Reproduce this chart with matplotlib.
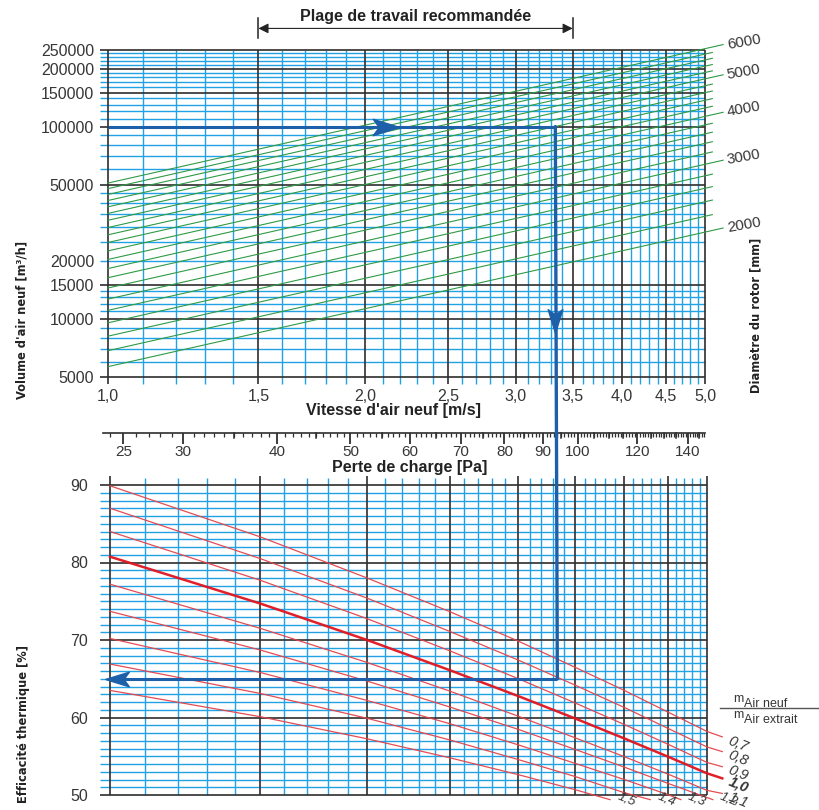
import numpy as np
import matplotlib

matplotlib.use("Agg")
import matplotlib.pyplot as plt
import matplotlib.transforms as mtransforms
from matplotlib import font_manager
from matplotlib.patches import ConnectionPatch
from matplotlib.path import Path

# --- values -------------------------------------------------------------------
VEL_MAJOR = [1.0, 1.5, 2.0, 2.5, 3.0, 3.5, 4.0, 4.5, 5.0]
VEL_LABELS = ["1,0", "1,5", "2,0", "2,5", "3,0", "3,5", "4,0", "4,5", "5,0"]
VEL_MINOR = [v for v in np.round(np.arange(1.1, 5.0, 0.1), 1) if v not in VEL_MAJOR]

VOL_MAJOR = [5000, 10000, 15000, 50000, 100000, 150000, 200000, 250000]
VOL_MINOR = [6000, 7000, 8000, 9000, 11000, 12000, 13000, 14000,
             20000, 25000, 30000, 35000, 40000, 45000,
             60000, 70000, 80000, 90000, 110000, 120000, 130000, 140000,
             160000, 170000, 180000, 190000, 210000, 220000, 230000, 240000]
VOL_TICKS = [5000, 10000, 15000, 20000, 50000, 100000, 150000, 200000, 250000]

# rotor diameter [mm] -> air volume at 1,0 m/s and at 5,0 m/s
DIAMETERS = [2000, 2200, 2400, 2600, 2800, 3000, 3200, 3400, 3600, 3800, 4000,
             4200, 4400, 4600, 4800, 5000, 5200, 5400, 5600, 5800, 6000]
DIAM_LABELED = [2000, 3000, 4000, 5000, 6000]
VOL_AT_V1 = [5660, 6850, 8150, 9560, 11100, 12700, 14500, 16400, 18300, 20400, 22600,
             25000, 27400, 29900, 32600, 35400, 38300, 41300, 44400, 47600, 50900]
VOL_AT_V5 = [28300, 34200, 40700, 47800, 55500, 63700, 72400, 81800, 91700, 102000, 113000,
             125000, 137000, 150000, 163000, 177000, 191000, 206000, 222000, 238000, 254000]

# pressure drop scale (Pa) aligned under the velocity axis
PA_RANGE = (23.5, 147.5)
PA_TICKS = [25, 30, 40, 50, 60, 70, 80, 90, 100, 120, 140]
PA_MID = [35, 45, 55, 65, 75, 85, 95, 105, 110, 115, 125, 130, 135, 145]
PA_MINOR = list(range(24, 148))

EFF_MAJOR = [50, 60, 70, 80, 90]
EFF_MINOR = [e for e in range(51, 90) if e % 10]

# thermal efficiency [%] per mass-flow ratio, read at VEL_MAJOR, plus end of each curve
RATIOS = ["0,7", "0,8", "0,9", "1,0", "1,1", "1,2", "1,3", "1,4", "1,5"]
EFF_CURVES = [
    [89.9, 83.3, 78.0, 73.65, 69.9, 66.5, 63.5, 60.7, 58.2],
    [87.0, 80.5, 75.4, 71.1, 67.45, 64.2, 61.3, 58.6, 56.2],
    [84.0, 77.7, 72.75, 68.6, 65.05, 61.9, 59.1, 56.55, 54.2],
    [80.75, 74.7, 70.0, 66.1, 62.8, 59.9, 57.3, 54.95, 52.8],
    [77.2, 71.5, 67.1, 63.4, 60.2, 57.4, 54.95, 52.7, 50.6],
    [73.7, 68.7, 64.7, 61.35, 58.5, 55.9, 53.6, 51.5],
    [70.2, 65.8, 62.2, 59.2, 56.5, 54.1, 52.0, 50.05],
    [66.9, 63.1, 59.9, 57.1, 54.6, 52.4, 50.3],
    [63.5, 60.1, 57.25, 54.8, 52.65, 50.7],
]
END_VEL = [5.21, 5.21, 5.21, 5.21, 5.21, 5.08, 4.66, 4.29, 3.85]
END_EFF = [57.5, 55.6, 53.65, 52.15, 50.2, 49.4, 49.4, 49.4, 49.4]

# worked example drawn in blue
EX_VEL = 3.34
EX_VOL = 100000
EX_EFF = 65

# --- styling -------------------------------------------------------------------
GRID_BLUE = "#22a2e4"
GRID_DARK = "#2e2e2e"
GREEN = "#2f9a45"
RED = "#e4424a"
PATH_BLUE = "#1d5fa9"
TEXT = "#363636"

plt.rcParams["font.family"] = ["Liberation Sans", "DejaVu Sans"]
installed = {f.name for f in font_manager.fontManager.ttflist}
if "Liberation Sans Narrow" in installed:
    NARROW = dict(family="Liberation Sans Narrow", fontsize=10.5)
else:
    NARROW = dict(family="DejaVu Sans", fontstretch="condensed", fontsize=9.2)

W, H = 819, 810
fig = plt.figure(figsize=(W / 100, H / 100), dpi=100)


def box(x0, y0, x1, y1):
    return [x0 / W, 1 - y1 / H, (x1 - x0) / W, (y1 - y0) / H]


ax1 = fig.add_axes(box(108, 50, 705, 377))
ax2 = fig.add_axes(box(110, 485, 707, 795))
axp = fig.add_axes(box(103, 433, 705, 433.01))


def draw_grid(ax, xs, ys, color, lw, z, xext, yext):
    for x in xs:
        ax.plot([x, x], yext, transform=ax.get_xaxis_transform(), color=color,
                lw=lw, zorder=z, clip_on=False, solid_capstyle="butt")
    for y in ys:
        ax.plot(xext, [y, y], transform=ax.get_yaxis_transform(), color=color,
                lw=lw, zorder=z, clip_on=False, solid_capstyle="butt")


# --- top panel: volume vs velocity ------------------------------------------------
ax1.set_xscale("log")
ax1.set_yscale("log")
ax1.set_xlim(1.0, 5.0)
ax1.set_ylim(5000, 250000)
ax1.set_frame_on(False)
draw_grid(ax1, VEL_MINOR, VOL_MINOR, GRID_BLUE, 1.0, 1, (-0.014, 1), (-0.02, 1))
draw_grid(ax1, VEL_MAJOR, VOL_MAJOR, GRID_DARK, 1.2, 2, (-0.014, 1), (-0.02, 1))
ax1.xaxis.set_minor_locator(matplotlib.ticker.NullLocator())
ax1.yaxis.set_minor_locator(matplotlib.ticker.NullLocator())
ax1.set_xticks(VEL_MAJOR, VEL_LABELS)
ax1.set_yticks(VOL_TICKS, [str(v) for v in VOL_TICKS])
ax1.tick_params(axis="x", length=0, pad=8.5, labelsize=11.5, labelcolor=TEXT)
ax1.tick_params(axis="y", length=0, pad=10, labelsize=11.5, labelcolor=TEXT)

for d, v1, v5 in zip(DIAMETERS, VOL_AT_V1, VOL_AT_V5):
    vend = 5.25 if d in DIAM_LABELED else 5.1
    ax1.plot([1.0, 5.0, vend], [v1, v5, v5 * vend / 5.0], color=GREEN, lw=0.8,
             zorder=3, clip_on=False)
    if d in DIAM_LABELED:
        ax1.annotate(str(d), xy=(vend, v5 * vend / 5.0), xytext=(2, 2),
                     textcoords="offset points", ha="left", va="center",
                     rotation=10, fontsize=11, color=TEXT, annotation_clip=False)

# recommended working range
xt = ax1.get_xaxis_transform()
ax1.annotate("", xy=(1.5, 1.066), xytext=(3.5, 1.066), xycoords=xt, textcoords=xt,
             arrowprops=dict(arrowstyle="<|-|>", color="#222222", lw=0.8,
                             mutation_scale=15, shrinkA=0, shrinkB=0),
             annotation_clip=False)
for v in (1.5, 3.5):
    ax1.plot([v, v], [1.038, 1.099], transform=xt, color="#222222", lw=1.1, clip_on=False)
ax1.text(np.sqrt(1.5 * 3.5), 1.08, "Plage de travail recommandée", transform=xt,
         ha="center", va="bottom", fontsize=11.5, weight="bold", color="#222222")

# --- pressure drop scale -------------------------------------------------------
axp.set_xscale("log")
axp.set_xlim(*PA_RANGE)
axp.patch.set_visible(False)
for side in ("left", "right", "top"):
    axp.spines[side].set_visible(False)
axp.spines["bottom"].set_color(GRID_DARK)
axp.spines["bottom"].set_linewidth(1.2)
axp.set_yticks([])
axp.xaxis.set_major_locator(matplotlib.ticker.FixedLocator(PA_TICKS))
axp.xaxis.set_major_formatter(matplotlib.ticker.FixedFormatter([str(p) for p in PA_TICKS]))
axp.xaxis.set_minor_locator(matplotlib.ticker.FixedLocator(PA_MINOR))
axp.xaxis.set_minor_formatter(matplotlib.ticker.NullFormatter())
axp.tick_params(which="major", length=8, width=1.3, color=GRID_DARK, pad=0.5,
                labelsize=11, labelcolor=TEXT)
axp.tick_params(which="minor", length=3, width=0.9, color=GRID_DARK)
pt = mtransforms.blended_transform_factory(axp.transData, fig.transFigure)
base = 1 - 433 / H
for p in PA_MID:
    axp.plot([p, p], [base, base - 5 / H], transform=pt, color=GRID_DARK, lw=1.1,
             clip_on=False)

fig.text(393 / W, 1 - 410 / H, "Vitesse d'air neuf [m/s]", ha="center", va="center",
         fontsize=11.5, weight="bold", color="#222222")
fig.text(410 / W, 1 - 468 / H, "Perte de charge [Pa]", ha="center", va="center",
         fontsize=11.5, weight="bold", color="#222222")

# --- lower panel: thermal efficiency ---------------------------------------------
ax2.set_xscale("log")
ax2.set_xlim(1.0, 5.0)
ax2.set_ylim(50, 90)
ax2.set_frame_on(False)
draw_grid(ax2, VEL_MINOR, EFF_MINOR, GRID_BLUE, 1.0, 1, (-0.016, 1), (0, 1.024))
draw_grid(ax2, VEL_MAJOR, EFF_MAJOR, GRID_DARK, 1.2, 2, (-0.016, 1), (0, 1.03))
ax2.xaxis.set_minor_locator(matplotlib.ticker.NullLocator())
ax2.set_xticks([])
ax2.set_yticks(EFF_MAJOR, [str(e) for e in EFF_MAJOR])
ax2.tick_params(axis="y", length=0, pad=16, labelsize=11.5, labelcolor=TEXT)

for i, (lab, eff) in enumerate(zip(RATIOS, EFF_CURVES)):
    xs = VEL_MAJOR[:len(eff)] + [END_VEL[i]]
    ys = eff + [END_EFF[i]]
    bold = lab == "1,0"
    ax2.plot(xs, ys, color="#e0141e" if bold else RED, lw=1.8 if bold else 0.9,
             zorder=3, clip_on=False, alpha=0.95)
    if i < 5:
        off, size = (3, -5), 10.5
    else:
        off, size = (4, 0), 9.5
    ax2.annotate(lab, xy=(END_VEL[i], END_EFF[i]), xytext=off, textcoords="offset points",
                 ha="left", va="center", rotation=-22, fontsize=size, style="italic",
                 weight="bold" if bold else "normal", color=TEXT, annotation_clip=False)

# mass-flow ratio legend
fig.add_artist(plt.Line2D([720 / W, 818 / W], [1 - 708 / H] * 2, color="#555555", lw=1.0))
fig.text(733 / W, 1 - 699 / H, "m", fontsize=9, color=TEXT, va="center")
fig.text(744 / W, 1 - 704 / H, "Air neuf", fontsize=9, color=TEXT, va="center")
fig.text(733 / W, 1 - 715 / H, "m", fontsize=9, color=TEXT, va="center")
fig.text(744 / W, 1 - 720 / H, "Air extrait", fontsize=9, color=TEXT, va="center")

# axis titles
fig.text(22 / W, 1 - 320 / H, "Volume d'air neuf [m³/h]", rotation=90, ha="center",
         va="center", weight="bold", color="#222222", **NARROW)
fig.text(24 / W, 1 - 724 / H, "Efficacité thermique [%]", rotation=90, ha="center",
         va="center", weight="bold", color="#222222", **NARROW)
fig.text(756 / W, 1 - 315 / H, "Diamètre du rotor [mm]", rotation=90, ha="center",
         va="center", weight="bold", color="#222222", **NARROW)

# --- worked example path ----------------------------------------------------------
ax1.plot([1.0, EX_VEL], [EX_VOL, EX_VOL], color=PATH_BLUE, lw=2.2, zorder=6,
         solid_capstyle="butt")
ax2.plot([1.0, EX_VEL], [EX_EFF, EX_EFF], color=PATH_BLUE, lw=2.2, zorder=6,
         solid_capstyle="butt")
fig.add_artist(ConnectionPatch(xyA=(EX_VEL, EX_VOL), coordsA=ax1.transData,
                               xyB=(EX_VEL, EX_EFF), coordsB=ax2.transData,
                               color=PATH_BLUE, lw=2.4, zorder=6))


def arrow_marker(angle):
    pts = np.array([(-1, -0.62), (1, 0), (-1, 0.62), (-0.55, 0), (-1, -0.62)])
    a = np.deg2rad(angle)
    rot = np.array([[np.cos(a), -np.sin(a)], [np.sin(a), np.cos(a)]])
    return Path(pts @ rot.T, [Path.MOVETO, Path.LINETO, Path.LINETO, Path.LINETO,
                              Path.CLOSEPOLY])


ax1.plot([2.113], [EX_VOL], marker=arrow_marker(0), ms=19, color=PATH_BLUE, zorder=7)
ax1.plot([EX_VEL], [9720], marker=arrow_marker(-90), ms=17, color=PATH_BLUE, zorder=7)
ax2.plot([1.0177], [EX_EFF], marker=arrow_marker(180), ms=17, color=PATH_BLUE, zorder=7,
         clip_on=False)

fig.savefig("out.png", dpi=100)
